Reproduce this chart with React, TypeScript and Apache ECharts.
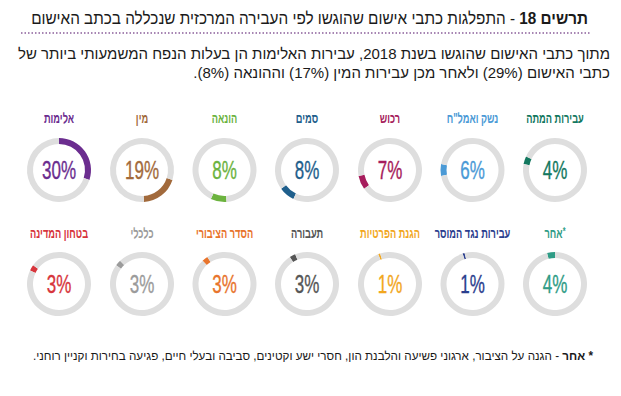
import React, { useEffect, useRef } from "react";
import * as echarts from "echarts";

// ---- data ----
const categories = [
  "אלימות", "מין", "הונאה", "סמים", "רכוש", 'נשק ואמל"ח', "עבירות המתה",
  "בטחון המדינה", "כלכלי", "הסדר הציבורי", "תעבורה", "הגנת הפרטיות", "עבירות נגד המוסר", "אחר*",
];
const shares = [30, 19, 8, 8, 7, 6, 4, 3, 3, 3, 3, 1, 1, 4];
const colors = [
  "#6b2d8f", "#a26a3c", "#6cb33f", "#1f5f8c", "#a61c5c", "#4b9ad6", "#13785f",
  "#d7353c", "#9b9b9b", "#e8742c", "#565656", "#f2a71e", "#2b3e8e", "#2f9c86",
];

const RLM = "\u200F";
const headerBold = "תרשים 18";
const headerRest = "התפלגות כתבי אישום שהוגשו לפי העבירה המרכזית שנכללה בכתב האישום";
const subLine1 = "מתוך כתבי האישום שהוגשו בשנת 2018, עבירות האלימות הן בעלות הנפח המשמעותי ביותר של";
const subLine2 = "כתבי האישום (29%) ולאחר מכן עבירות המין (17%) וההונאה (8%).";
const noteBold = "אחר";
const noteRest = "הגנה על הציבור, ארגוני פשיעה והלבנת הון, חסרי ישע וקטינים, סביבה ובעלי חיים, פגיעה בחירות וקניין רוחני.";

// ---- layout ----
const colX = [59, 142, 224.5, 307, 390, 472.5, 555];
const rowY = [170, 284];
const nameY = [118, 233];
const GREY = "#dedede";
const FONT = "'Liberation Sans', Arial, sans-serif";

export default function App() {
  const ref = useRef<HTMLDivElement>(null);
  useEffect(() => {
    if (!ref.current) return;
    const chart = echarts.init(ref.current, null, { renderer: "svg" });

    let cum = 0;
    const series: any[] = [];
    const texts: any[] = [];
    categories.forEach((name, i) => {
      const row = i < 7 ? 0 : 1;
      const col = i % 7;
      const v = shares[i];
      series.push({
        type: "pie",
        silent: true,
        center: [colX[col], rowY[row]],
        radius: [26, 32],
        startAngle: 90 - cum * 3.6,
        clockwise: true,
        avoidLabelOverlap: false,
        labelLine: { show: false },
        label: { show: false },
        data: [
          { value: v, name, itemStyle: { color: colors[i] } },
          { value: 100 - v, name: "rest", itemStyle: { color: GREY } },
        ],
      });
      cum += v;
      // percentage in the ring's centre
      texts.push({
        type: "text",
        x: colX[col],
        y: rowY[row] + 1,
        scaleX: 0.68,
        style: {
          text: `${v}%`,
          align: "center",
          verticalAlign: "middle",
          fontSize: 25,
          fontFamily: FONT,
          fill: colors[i],
          stroke: colors[i],
          lineWidth: 0.35,
        },
      });
      // category name above the ring
      const star = name.endsWith("*");
      const base = star ? name.slice(0, -1) : name;
      texts.push({
        type: "text",
        x: colX[col],
        y: nameY[row],
        scaleX: 0.66,
        style: {
          text: star ? `{n|${base}}{s|*}` : `{n|${base}}`,
          align: "center",
          verticalAlign: "middle",
          rich: {
            n: { fontSize: 14, fontWeight: "bold", fontFamily: FONT, fill: colors[i] },
            s: { fontSize: 11, fontWeight: "bold", fontFamily: FONT, fill: colors[i], padding: [0, 0, 3, 0] },
          },
        },
      });
    });

    chart.setOption({
      animation: false,
      backgroundColor: "#ffffff",
      series,
      graphic: [
        {
          type: "text",
          x: 588,
          y: 18,
          scaleX: 0.9,
          style: {
            text: `{r|${headerRest}}{r| - }{b|${headerBold}}`,
            align: "right",
            verticalAlign: "middle",
            rich: {
              r: { fontSize: 17, fontFamily: FONT, fill: "#1a1a1a" },
              b: { fontSize: 17, fontWeight: "bold", fontFamily: FONT, fill: "#1a1a1a" },
            },
          },
        },
        {
          type: "line",
          shape: { x1: 21, y1: 33, x2: 590, y2: 33 },
          style: { stroke: "#8b5e9b", lineWidth: 1.5, lineDash: [1.5, 2] },
        },
        {
          type: "text",
          x: 610,
          y: 44,
          style: {
            text: subLine1 + "\n" + subLine2 + RLM,
            align: "right",
            verticalAlign: "top",
            fontSize: 15,
            lineHeight: 19,
            fontFamily: FONT,
            fill: "#1a1a1a",
          },
        },
        {
          type: "text",
          x: 593,
          y: 356,
          scaleX: 0.974,
          style: {
            text: `{r|${noteRest}${RLM}}{r| - }{b|${noteBold}}{b| *}`,
            align: "right",
            verticalAlign: "middle",
            rich: {
              r: { fontSize: 12, fontFamily: FONT, fill: "#1a1a1a" },
              b: { fontSize: 12, fontWeight: "bold", fontFamily: FONT, fill: "#1a1a1a" },
            },
          },
        },
        ...texts,
      ],
    });
    return () => chart.dispose();
  }, []);
  return (
    <div
      ref={ref}
      style={{ position: "fixed", left: 0, top: 0, width: 621, height: 396, background: "#fff" }}
    />
  );
}
